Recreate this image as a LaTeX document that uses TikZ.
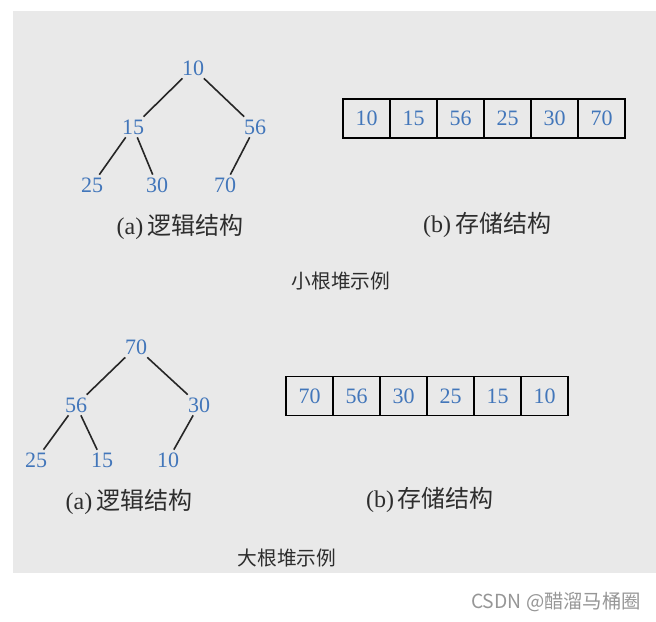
\documentclass[tikz,border=0pt]{standalone}
\usepackage{fontspec}
\setmainfont{Liberation Serif}
\newfontfamily\cjk{Noto Sans CJK SC}
\definecolor{bgc}{RGB}{233,233,233}
\definecolor{numc}{RGB}{66,118,186}
\definecolor{txtc}{RGB}{45,45,45}
\definecolor{wmc}{RGB}{150,150,150}
\begin{document}
\begin{tikzpicture}[x=0.75pt,y=-0.75pt,
  num/.style={text=numc,font=\fontsize{16.5}{16.5}\selectfont,inner sep=2pt},
  cell/.style={draw=black,line width=1.2pt,minimum width=35.25pt,minimum height=29.25pt,inner sep=0pt,text=numc,font=\fontsize{16.5}{16.5}\selectfont},
  link/.style={draw=black!85,line width=1.2pt},
  captxt/.style={text=txtc,font=\fontsize{18}{18}\selectfont,inner sep=0pt},
  titletxt/.style={text=txtc,font=\cjk\fontsize{14.8}{14.8}\selectfont,inner sep=0pt},
]
\useasboundingbox (0,0) rectangle (656,621);
\fill[white] (0,0) rectangle (656,621);
\fill[bgc] (13,11) rectangle (656,573);

% ---- small-root heap tree
\node[num] (a10) at (193,68) {10};
\node[num] (a15) at (133,127) {15};
\node[num] (a56) at (255,127) {56};
\node[num] (a25) at (92,185) {25};
\node[num] (a30) at (157,185) {30};
\node[num] (a70) at (225,185) {70};
\draw[link] (a10) -- (a15);
\draw[link] (a10) -- (a56);
\draw[link] (a15) -- (a25);
\draw[link] (a15) -- (a30);
\draw[link] (a56) -- (a70);

\foreach \v [count=\i] in {10,15,56,25,30,70}
  \node[cell] (ta\i) at ({366.5+47*(\i-1)},118.5) {\v};

\node[captxt] (capa1) at (180,227) {(a)\,{\cjk 逻辑结构}};
\node[captxt] (capb1) at (487,225) {(b)\,{\cjk 存储结构}};
\node[titletxt] (t1) at (341,281) {小根堆示例};

% ---- big-root heap tree
\node[num] (b70) at (136,347) {70};
\node[num] (b56) at (76,405) {56};
\node[num] (b30) at (199,405) {30};
\node[num] (b25) at (36,460) {25};
\node[num] (b15) at (102,460) {15};
\node[num] (b10) at (168,460) {10};
\draw[link] (b70) -- (b56);
\draw[link] (b70) -- (b30);
\draw[link] (b56) -- (b25);
\draw[link] (b56) -- (b15);
\draw[link] (b30) -- (b10);

\foreach \v [count=\i] in {70,56,30,25,15,10}
  \node[cell] (tb\i) at ({309.5+47*(\i-1)},396) {\v};

\node[captxt] (capa2) at (129,502) {(a)\,{\cjk 逻辑结构}};
\node[captxt] (capb2) at (430,500) {(b)\,{\cjk 存储结构}};
\node[titletxt] (t2) at (287,558) {大根堆示例};

\node[text=wmc,font=\cjk\fontsize{14.5}{14.5}\selectfont,inner sep=0pt] (wm) at (556,602) {CSDN @醋溜马桶圈};
\end{tikzpicture}
\end{document}
